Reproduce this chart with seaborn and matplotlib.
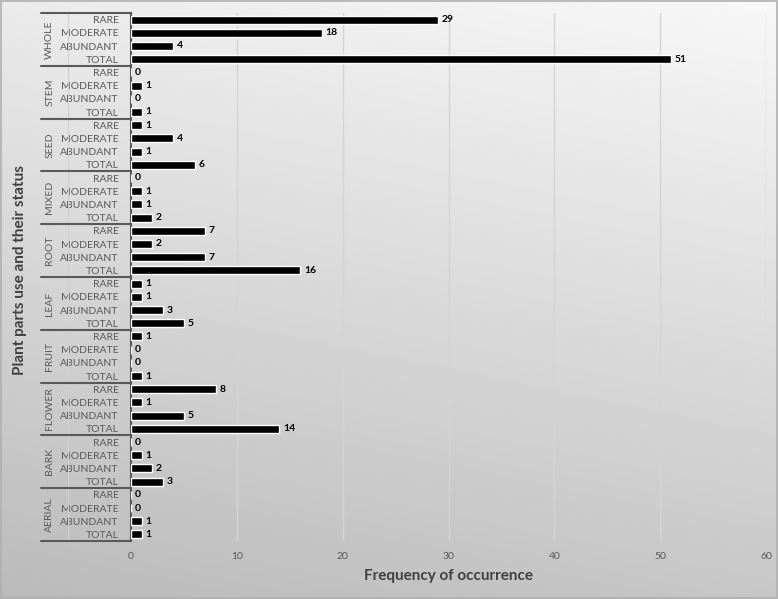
import numpy as np
import pandas as pd
import matplotlib
matplotlib.use("Agg")
import matplotlib.pyplot as plt
import seaborn as sns
from matplotlib.transforms import blended_transform_factory

parts = ["WHOLE", "STEM", "SEED", "MIXED", "ROOT", "LEAF", "FRUIT", "FLOWER", "BARK", "AERIAL"]
statuses = ["RARE", "MODERATE", "ABUNDANT", "TOTAL"]
rare = [29, 0, 1, 0, 7, 1, 1, 8, 0, 0]
moderate = [18, 1, 4, 1, 2, 1, 0, 1, 1, 0]
abundant = [4, 0, 1, 1, 7, 3, 0, 5, 2, 1]
total = [51, 1, 6, 2, 16, 5, 1, 14, 3, 1]

rows = []
for i, p in enumerate(parts):
    for s, v in zip(statuses, [rare[i], moderate[i], abundant[i], total[i]]):
        rows.append({"part": p, "status": s, "key": f"{p}|{s}", "value": v})
df = pd.DataFrame(rows)
n = len(df)

sns.set_theme(style="white")
plt.rcParams["font.family"] = ["Lato", "DejaVu Sans"]

fig = plt.figure(figsize=(7.78, 5.99), dpi=100)

# gradient background
bg = fig.add_axes([0, 0, 1, 1], zorder=-10)
yy, xx = np.mgrid[0:1:200j, 0:1:200j]
grad = 0.97 - 0.19 * yy - 0.05 * (1 - xx)
bg.imshow(grad, cmap="gray", vmin=0, vmax=1, aspect="auto", extent=[0, 1, 0, 1], origin="upper")
bg.set_axis_off()
fig.patches.append(plt.Rectangle((0.001, 0.001), 0.998, 0.998, transform=fig.transFigure,
                                 fill=False, edgecolor="#b0b0b0", linewidth=1.2))

ax = fig.add_axes([131 / 778, 58 / 599, 635 / 778, 528 / 599])
ax.set_facecolor("none")
sns.barplot(data=df, x="value", y="key", orient="h", color="black", width=0.62,
            saturation=1, ax=ax, zorder=3)

ax.set_xticks(range(0, 61, 10))
ax.grid(axis="x", color="#d4d4d4", linewidth=1, zorder=0)
ax.set_yticks(range(n))
ax.set_yticklabels(df["status"], fontsize=7.5, color="#595959")
ax.tick_params(axis="y", length=0, pad=9)
ax.tick_params(axis="x", length=0, pad=8, labelsize=7.5, labelcolor="#595959")
for sp in ["top", "right", "bottom"]:
    ax.spines[sp].set_visible(False)
ax.spines["left"].set_color("#595959")
ax.spines["left"].set_linewidth(1.5)

for i, v in enumerate(df["value"]):
    ax.text(v + 0.35, i, str(v), va="center", ha="left", fontsize=7.5,
            fontweight="bold", color="black", zorder=4)

# multi-level category axis: group boxes and labels
trans = blended_transform_factory(ax.transAxes, ax.transData)
for k in range(len(parts) + 1):
    yb = 4 * k - 0.5
    ax.plot([-0.141, 0], [yb, yb], transform=trans, color="#595959",
            linewidth=1.5, clip_on=False, zorder=5)
for k, p in enumerate(parts):
    ax.text(-0.128, 4 * k + 1.5, p, rotation=90, ha="center", va="center", fontsize=7.5,
            color="#595959", transform=trans, clip_on=False)
ax.plot([-0.1, -0.1], [-0.5, n - 0.5], transform=trans, color="#d0d0d0",
        linewidth=0.8, clip_on=False)

ax.set_xlim(0, 60)
ax.set_ylim(n - 0.5, -0.5)

ax.set_xlabel("Frequency of occurrence", fontsize=11, fontweight="bold", color="#404040", labelpad=6)
ax.set_ylabel("")
fig.text(0.026, 0.55, "Plant parts use and their status", rotation=90, ha="center", va="center",
         fontsize=11, fontweight="bold", color="#404040")

fig.savefig("out.png", dpi=100)
plt.close(fig)
